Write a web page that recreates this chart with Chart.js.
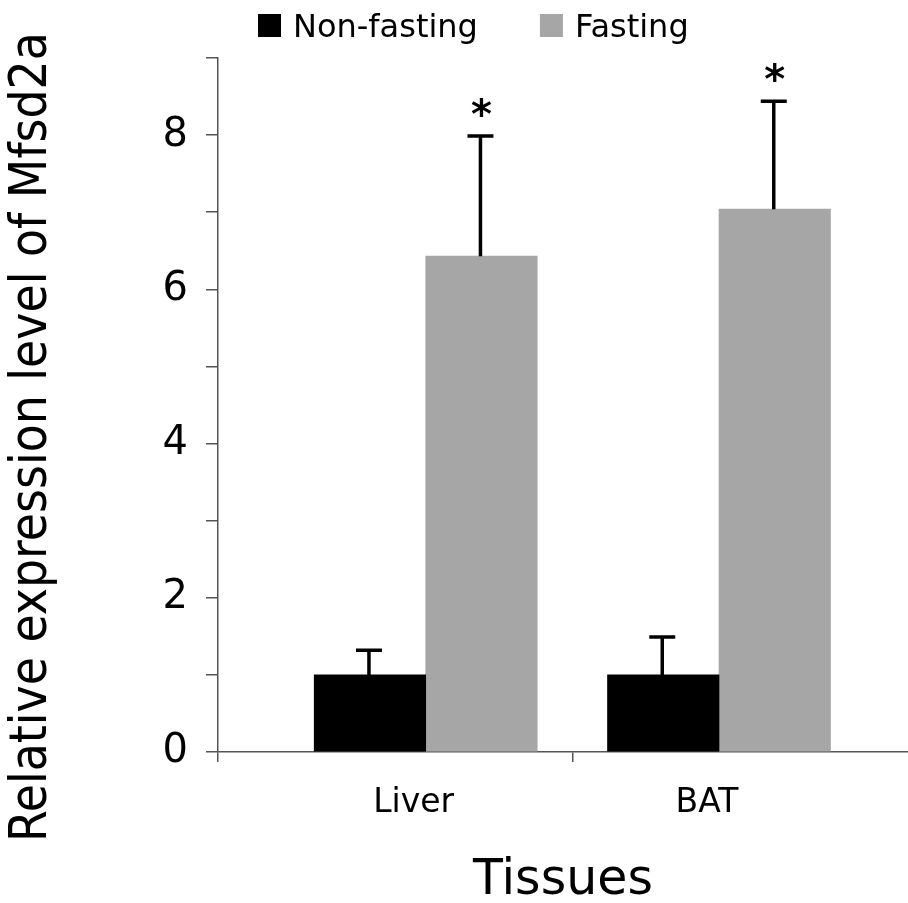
<!DOCTYPE html>
<html>
<head>
<meta charset="utf-8">
<script src="https://cdn.jsdelivr.net/npm/chart.js@4.4.0/dist/chart.umd.min.js"></script>
<style>
  body { margin: 0; background: #fff; overflow: hidden; }
  canvas { display: block; }
</style>
</head>
<body>
<canvas id="chart" width="908" height="903"></canvas>
<script>
// Data
const tissues = ['Liver', 'BAT'];
const seriesNames = ['Non-fasting', 'Fasting'];
const nonFasting = [1.0, 1.0];
const fasting = [6.43, 7.04];
const nonFastingErr = [0.32, 0.49];
const fastingErr = [1.56, 1.40];
const nonFastingSig = [false, false];
const fastingSig = [true, true];
const yTickLabels = [0, 2, 4, 6, 8];

// Styles
const barColors = ['#000000', '#a6a6a6'];
const axisColor = '#555555';
const fontFamily = 'DejaVu Sans';

const errors = [nonFastingErr, fastingErr];
const marks = [nonFastingSig, fastingSig];
const toPoints = vals => vals.map((v, i) => ({ x: i + 1, y: v }));

// Error bars (upper only) and significance stars
const errorBars = {
    id: 'errorBars',
    afterDatasetsDraw(chart) {
        const ctx = chart.ctx;
        const yScale = chart.scales.y;
        ctx.save();
        chart.data.datasets.forEach((ds, di) => {
            const meta = chart.getDatasetMeta(di);
            meta.data.forEach((bar, i) => {
                const x = bar.x - 1;
                const yTop = yScale.getPixelForValue(ds.data[i].y + errors[di][i]);
                ctx.strokeStyle = '#000';
                ctx.lineWidth = 3.5;
                ctx.beginPath();
                ctx.moveTo(x, bar.y);
                ctx.lineTo(x, yTop);
                ctx.moveTo(x - 13, yTop);
                ctx.lineTo(x + 13, yTop);
                ctx.stroke();
                if (marks[di][i]) {
                    ctx.fillStyle = '#000';
                    ctx.font = 'bold 40px ' + fontFamily;
                    ctx.textAlign = 'center';
                    ctx.textBaseline = 'alphabetic';
                    ctx.fillText('*', x + 1, yTop - 8);
                }
            });
        });
        ctx.restore();
    }
};

// Legend on top and rotated y title
const extraText = {
    id: 'extraText',
    afterDraw(chart) {
        const ctx = chart.ctx;
        ctx.save();
        // legend
        ctx.font = '32px ' + fontFamily;
        ctx.textBaseline = 'alphabetic';
        ctx.textAlign = 'left';
        let x = 258;
        chart.data.datasets.forEach(ds => {
            ctx.fillStyle = ds.backgroundColor;
            ctx.fillRect(x, 14, 23, 23);
            ctx.fillStyle = '#000';
            ctx.fillText(ds.label, x + 35, 37);
            x += 35 + ctx.measureText(ds.label).width + 62;
        });
        // y title
        ctx.translate(33, 437);
        ctx.rotate(-Math.PI / 2);
        ctx.font = '51px "DejaVu Sans Condensed", "Liberation Sans Narrow", "Liberation Sans"';
        ctx.textAlign = 'center';
        ctx.textBaseline = 'middle';
        ctx.fillText('Relative expression level of Mfsd2a', 0, 0);
        ctx.restore();
    }
};

const ctx = document.getElementById('chart').getContext('2d');
const chart = new Chart(ctx, {
    type: 'bar',
    data: {
        datasets: [
            { label: seriesNames[0], data: toPoints(nonFasting), backgroundColor: barColors[0] },
            { label: seriesNames[1], data: toPoints(fasting), backgroundColor: barColors[1] }
        ]
    },
    options: {
        responsive: false,
        animation: false,
        layout: { padding: { top: 58, left: 0, right: 0, bottom: 0 } },
        barThickness: 111.5,
        plugins: {
            legend: { display: false },
            tooltip: { enabled: false }
        },
        scales: {
            x: {
                type: 'linear',
                min: 0.2918,
                max: 2.6444,
                offset: false,
                afterBuildTicks: scale => {
                    scale.ticks = [scale.min, 1, 1.5, 2].map(v => ({ value: v }));
                },
                afterFit: scale => { scale.height = 151; },
                ticks: {
                    autoSkip: false,
                    maxRotation: 0,
                    padding: 22,
                    labelOffset: -12,
                    color: '#000',
                    font: { family: fontFamily, size: 33 },
                    callback: v => v === 1 ? tissues[0] : v === 2 ? tissues[1] : ''
                },
                grid: {
                    offset: false,
                    drawOnChartArea: false,
                    tickLength: 10,
                    lineWidth: 1.5,
                    color: c => (c.tick && (c.tick.value === 1 || c.tick.value === 2)) ? 'rgba(0,0,0,0)' : axisColor
                },
                border: { color: axisColor, width: 1.5 },
                title: {
                    display: true,
                    text: 'Tissues',
                    color: '#000',
                    font: { family: fontFamily, size: 49 },
                    padding: { top: 0, bottom: -8 }
                }
            },
            y: {
                min: 0,
                max: 9,
                afterFit: scale => { scale.width = 218; },
                ticks: {
                    stepSize: 1,
                    padding: 18,
                    color: '#000',
                    font: { family: fontFamily, size: 40 },
                    callback: v => yTickLabels.includes(v) ? String(v) : ''
                },
                grid: {
                    drawOnChartArea: false,
                    tickLength: 12,
                    lineWidth: 1.5,
                    color: axisColor
                },
                border: { color: axisColor, width: 1.5 }
            }
        }
    },
    plugins: [errorBars, extraText]
});
</script>
</body>
</html>
